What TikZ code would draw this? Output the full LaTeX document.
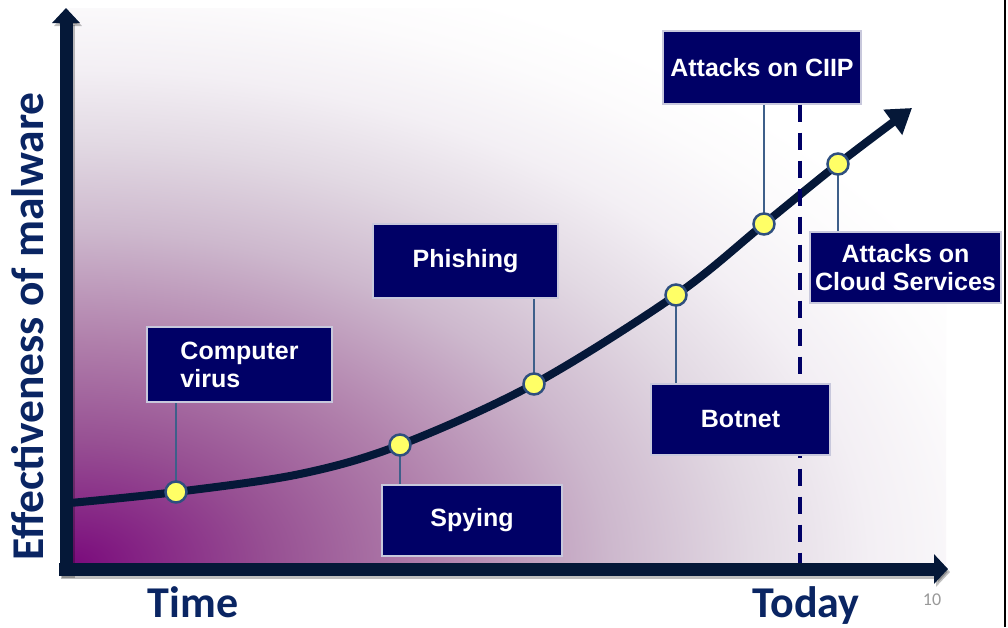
\documentclass[tikz,border=0pt]{standalone}
\usepackage{fontspec}
\newfontfamily\boxfont{Liberation Sans}
\newfontfamily\calfont{Carlito}
\usetikzlibrary{arrows.meta}
\definecolor{boxnavy}{HTML}{000066}
\definecolor{boxedge}{HTML}{C8C8DC}
\definecolor{axisnavy}{HTML}{051838}
\definecolor{labelblue}{HTML}{0A2563}
\definecolor{dotyellow}{HTML}{FFFF66}
\definecolor{dotedge}{HTML}{2F4F7F}
\definecolor{leadercol}{HTML}{3E5F8A}
\definecolor{pgA}{HTML}{7A0A7C}
\definecolor{pgB}{HTML}{975093}
\definecolor{pgC}{HTML}{B07FAB}
\definecolor{pgD}{HTML}{CDB8CD}
\definecolor{pgE}{HTML}{E2D9E3}
\definecolor{pgF}{HTML}{F3EFF4}
\definecolor{pgG}{HTML}{FCFBFC}
\pgfdeclareradialshading{malw}{\pgfpoint{0bp}{0bp}}{color(0bp)=(pgA); color(5bp)=(pgB); color(9bp)=(pgC); color(13.5bp)=(pgD); color(17bp)=(pgE); color(20bp)=(pgF); color(23bp)=(pgG); color(25bp)=(white); color(50bp)=(white)}
\begin{document}
\begin{tikzpicture}[x=1pt,y=-1pt,
  labelbox/.style={draw=boxedge, line width=1.2pt, fill=boxnavy, text=white,
    font=\boxfont\bfseries\fontsize{25}{28}\selectfont, inner sep=0pt},
  dot/.style={circle, fill=dotyellow, draw=dotedge, line width=2.5pt, minimum size=21pt, inner sep=0pt},
  leader/.style={draw=leadercol, line width=1.6pt},
  axisline/.style={draw=axisnavy, line width=13pt},
  axisshadow/.style={draw=black, opacity=0.25, line width=13pt},
  curveline/.style={draw=axisnavy, line width=8pt, -{Triangle[length=24pt,width=30pt]}},
  dashline/.style={draw=boxnavy, line width=4pt, dash pattern=on 17pt off 11pt},
  axislabel/.style={text=labelblue, font=\calfont\bfseries\fontsize{44}{50}\selectfont, inner sep=0pt}
]
\useasboundingbox (0,0) rectangle (1008,627);
\fill[white] (0,0) rectangle (1008,627);
% background gradient
\begin{scope}
  \clip (66,8) rectangle (946,569);
  \shade[shading=malw] (70,565) ellipse [x radius=1000, y radius=620];
\end{scope}
% right border
\draw[black, line width=2pt] (1005,0) -- (1005,627);
% axes
\draw[axisshadow, -{Triangle[length=15pt,width=27pt]}] (68,578) -- (68,11);
\draw[axisshadow, -{Triangle[length=14pt,width=29pt]}] (61,572) -- (950,572);
\draw[axisline, -{Triangle[length=15pt,width=27pt]}] (66,575) -- (66,8);
\draw[axisline, -{Triangle[length=14pt,width=29pt]}] (59,569) -- (948,569);
% curve points
\coordinate (p0) at (70,503);
\coordinate (p1) at (176,492);
\coordinate (p2) at (400,445);
\coordinate (p3) at (534,384);
\coordinate (p4) at (676,295);
\coordinate (p5) at (764,224);
\coordinate (p6) at (838,164);
\coordinate (pend) at (912,108);
\draw[curveline] plot[smooth, tension=0.55] coordinates {(p0) (p1) (300,474) (p2) (p3) (p4) (p5) (p6) (pend)};
% boxes
\node[labelbox, minimum width=185pt, minimum height=75pt, align=left] (cv) at (239.5,364.5) {Computer\\virus};
\node[labelbox, minimum width=180pt, minimum height=71pt] (sp) at (472,520.5) {Spying};
\node[labelbox, minimum width=185pt, minimum height=74pt] (ph) at (465.5,261) {Phishing};
\node[labelbox, minimum width=198pt, minimum height=73pt] (ci) at (762,67.5) {Attacks on CIIP};
% today dashed line
\coordinate (today) at (800,563);
\draw[dashline] (ci.south -| today) -- (today);
\node[labelbox, minimum width=179pt, minimum height=71pt] (bn) at (740.5,419.5) {Botnet};
\node[labelbox, minimum width=191pt, minimum height=71pt, align=center] (cl) at (905.5,267.5) {Attacks on\\Cloud Services};
% leaders
\draw[leader] (p1) -- (p1 |- cv.south);
\draw[leader] (p2) -- (p2 |- sp.north);
\draw[leader] (p3) -- (p3 |- ph.south);
\draw[leader] (p4) -- (p4 |- bn.north);
\draw[leader] (p5) -- (p5 |- ci.south);
\draw[leader] (p6) -- (p6 |- cl.north);
% dots
\node[dot] (d1) at (p1) {};
\node[dot] (d2) at (p2) {};
\node[dot] (d3) at (p3) {};
\node[dot] (d4) at (p4) {};
\node[dot] (d5) at (p5) {};
\node[dot] (d6) at (p6) {};
% axis labels
\node[axislabel, rotate=90, font=\calfont\bfseries\fontsize{45.5}{50}\selectfont] (ylab) at (27.5,326.5) {Effectiveness of malware};
\node[axislabel, anchor=base] (tlab) at (193,617) {Time};
\node[axislabel, anchor=base] (tdlab) at (806,617) {Today};
\node[text=gray!80, font=\calfont\fontsize{18}{20}\selectfont, inner sep=0pt] (pg) at (932,600) {10};
\end{tikzpicture}
\end{document}
